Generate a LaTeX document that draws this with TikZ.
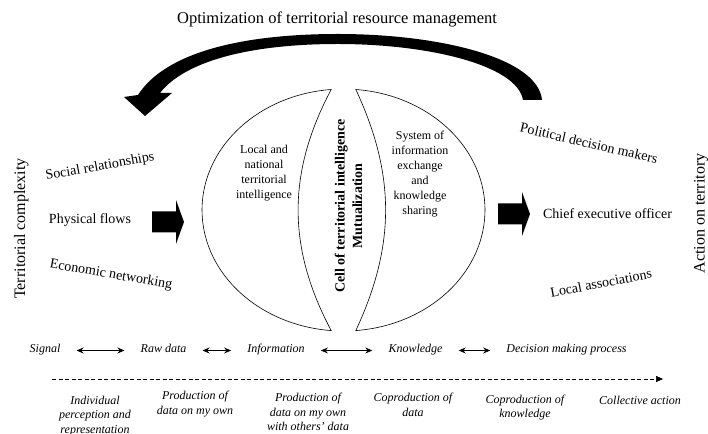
\documentclass[tikz,border=0pt]{standalone}
\usepackage{fontspec}
\setmainfont{Liberation Serif}
\usetikzlibrary{arrows.meta,positioning}

\begin{document}
\begin{tikzpicture}[
  x=1pt, y=1pt,
  font=\fontsize{14}{16}\selectfont, >={Stealth[length=7pt,width=6pt]},
  sidetext/.style={inner sep=0pt},
  bigtitle/.style={font=\fontsize{16.5}{19}\selectfont, inner sep=0pt, anchor=base},
  edgetext/.style={font=\fontsize{16}{19}\selectfont, inner sep=0pt, anchor=base, rotate=90},
  lenstext/.style={font=\fontsize{12}{15}\selectfont, align=center, inner sep=0pt},
  celltext/.style={font=\fontsize{14}{17.5}\selectfont\bfseries, align=center, rotate=90, inner sep=0pt},
  steptext/.style={font=\fontsize{12}{14}\selectfont\itshape, anchor=base, inner sep=3pt, text height=8pt, text depth=3pt},
  phasetext/.style={font=\fontsize{12}{14.5}\selectfont\itshape, align=center, anchor=north, inner sep=0pt},
  stepline/.style={<->, line width=0.8pt, shorten <=13pt, shorten >=13pt},
  timeline/.style={-{Triangle[length=7pt,width=6pt]}, dash pattern=on 4pt off 2.5pt, line width=0.6pt},
  lensline/.style={line width=0.6pt},
  blockarrow/.pic={\fill (0,-10.5) -- (24,-10.5) -- (24,-22) -- (32,0) -- (24,22) -- (24,10.5) -- (0,10.5) -- cycle;}
]
\useasboundingbox (0,0) rectangle (708,433);

% feedback loop
\node[bigtitle] (optim) at (337,409) {Optimization of territorial resource management};
\fill (542,333) .. controls (538,375) and (440,399) .. (338,399)
  .. controls (240,399) and (165,380) .. (138,338)
  -- (124,336) -- (145,317) -- (172,340) -- (160,340)
  .. controls (185,372) and (250,389) .. (338,389)
  .. controls (428,389) and (517,368) .. (523,333) -- cycle;

% territorial complexity
\node[edgetext] (complexity) at (25,204.5) {Territorial complexity};
\node[sidetext, rotate=10] (social) at (100,266) {Social relationships};
\node[sidetext] (flows) at (90,213) {Physical flows};
\node[sidetext, rotate=-10] (economic) at (111,158) {Economic networking};
\pic at (152,211) {blockarrow};

% cell of territorial intelligence
\coordinate (ltop) at (331.2,343.5);
\coordinate (lbot) at (331.2,102.5);
\coordinate (rtop) at (355.8,343.5);
\coordinate (rbot) at (355.8,102.5);
\draw[lensline] (ltop) arc[start angle=95, end angle=265, x radius=141.5, y radius=121]
  to[bend left=28] (ltop) -- cycle;
\draw[lensline] (rtop) arc[start angle=85, end angle=-85, x radius=141.5, y radius=121]
  to[bend right=25] (rtop) -- cycle;
\node[lenstext] (local) at (264,259.5) {Local and\\national\\territorial\\intelligence};
\node[lenstext] (system) at (420,259) {System of\\information\\exchange\\and\\knowledge\\sharing};
\node[celltext] (cell) at (348.5,227) {Cell of territorial intelligence\\Mutualization};

% action on territory
\pic at (498,219) {blockarrow};
\node[sidetext, rotate=-13] (political) at (589,290) {Political decision makers};
\node[sidetext] (chief) at (607.5,219.7) {Chief executive officer};
\node[sidetext, rotate=11] (assoc) at (601,150) {Local associations};
\node[edgetext] (action) at (704.5,219.5) {Action on territory};

% from signal to decision
\node[steptext] (signal) at (45,80) {Signal};
\node[steptext] (rawdata) at (163.5,80) {Raw data};
\node[steptext] (info) at (276,80) {Information};
\node[steptext] (know) at (415.5,80) {Knowledge};
\node[steptext] (decision) at (566.5,80) {Decision making process};
\foreach \a/\b in {signal/rawdata, rawdata/info, info/know, know/decision}
  \draw[stepline] (\a) -- (\b);

\coordinate (tl0) at (52,54);
\coordinate (tl1) at (663,54);
\draw[timeline] (tl0) -- (tl1);

\node[phasetext] (percep) at (95,37.4) {Individual\\perception and\\representation};
\node[phasetext] (prodown) at (195,41.7) {Production of\\data on my own};
\node[phasetext] (prodothers) at (308,40) {Production of\\data on my own\\with others' data};
\node[phasetext] (coprod) at (413,40) {Coproduction of\\data};
\node[phasetext] (coknow) at (525,38.4) {Coproduction of\\knowledge};
\node[phasetext] (collective) at (640,37.4) {Collective action};
\end{tikzpicture}
\end{document}
